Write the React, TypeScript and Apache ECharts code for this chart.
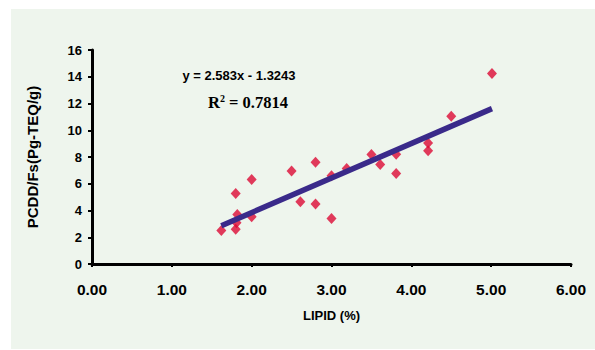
import React, { useEffect, useRef } from "react";
import * as echarts from "echarts";

const lipid = [1.62, 1.8, 1.82, 2.0, 1.81, 1.8, 2.0, 2.5, 2.8, 2.61, 2.8, 3.0, 3.0, 3.19, 3.5, 3.61, 3.81, 3.81, 4.21, 4.21, 4.5, 5.01];
const pcdd = [2.51, 5.28, 3.71, 3.53, 3.08, 2.59, 6.32, 6.96, 7.61, 4.65, 4.48, 3.41, 6.59, 7.14, 8.19, 7.44, 8.21, 6.77, 9.05, 8.46, 11.04, 14.25];
const slope = 2.583;
const intercept = -1.3243;
const xTicks = [0, 1, 2, 3, 4, 5, 6];
const yTicks = [0, 2, 4, 6, 8, 10, 12, 14, 16];

export default function App() {
  const ref = useRef<HTMLDivElement>(null);
  useEffect(() => {
    document.body.style.margin = "0";
    const chart = echarts.init(ref.current!, null, { renderer: "svg" });
    const xMin = Math.min(...lipid);
    const xMax = Math.max(...lipid);
    const font = "Arial, 'Liberation Sans', sans-serif";
    chart.setOption({
      animation: false,
      backgroundColor: "#ffffff",
      graphic: [
        {
          type: "rect",
          shape: { x: 11, y: 9, width: 584, height: 340 },
          style: { fill: "#EEF5ED" },
          z: -10,
          silent: true,
        },
        {
          type: "text",
          x: 239,
          y: 75,
          style: {
            text: "y = 2.583x - 1.3243",
            font: `bold 13px ${font}`,
            fill: "#000",
            align: "center",
            verticalAlign: "middle",
          },
        },
        {
          type: "text",
          x: 248,
          y: 102,
          style: {
            text: "R{sup|2} = 0.7814",
            font: `bold 16.5px 'Liberation Serif', 'Times New Roman', serif`,
            fill: "#000",
            align: "center",
            verticalAlign: "middle",
            rich: {
              sup: {
                font: `bold 10px 'Liberation Serif', serif`,
                verticalAlign: "top",
                padding: [0, 0, 8, 0],
              },
            },
          },
        },
      ],
      grid: { left: 92, right: 24, top: 50, bottom: 86, containLabel: false },
      xAxis: {
        type: "value",
        min: xTicks[0],
        max: xTicks[xTicks.length - 1],
        interval: 1,
        name: "LIPID (%)",
        nameLocation: "middle",
        nameGap: 45,
        nameTextStyle: { fontFamily: font, fontWeight: "bold", fontSize: 13, color: "#000" },
        axisLine: { show: true, onZero: false, lineStyle: { color: "#000", width: 3 } },
        axisTick: { show: true, inside: false, length: 3, lineStyle: { color: "#000", width: 2 } },
        axisLabel: {
          formatter: (v: number) => v.toFixed(2),
          fontFamily: font,
          fontWeight: "bold",
          fontSize: 15.5,
          color: "#000",
          margin: 17,
        },
        splitLine: { show: false },
      },
      yAxis: {
        type: "value",
        min: yTicks[0],
        max: yTicks[yTicks.length - 1],
        interval: 2,
        name: "PCDD/Fs(Pg-TEQ/g)",
        nameLocation: "middle",
        nameGap: 52,
        nameTextStyle: { fontFamily: font, fontWeight: "bold", fontSize: 15, color: "#000" },
        axisLine: { show: true, lineStyle: { color: "#000", width: 3 } },
        axisTick: { show: true, inside: false, length: 4, lineStyle: { color: "#000", width: 2 } },
        axisLabel: { fontFamily: font, fontWeight: "bold", fontSize: 13, color: "#000", margin: 10 },
        splitLine: { show: false },
      },
      series: [
        {
          type: "line",
          data: [
            [xMin, slope * xMin + intercept],
            [xMax, slope * xMax + intercept],
          ],
          showSymbol: false,
          symbol: "none",
          lineStyle: { color: "#3A2A8A", width: 5.5 },
          z: 3,
        },
        {
          type: "scatter",
          data: lipid.map((x, i) => [x, pcdd[i]]),
          symbol: "diamond",
          symbolSize: [10, 11],
          itemStyle: { color: "#DC0A34" },
          z: 2,
        },
      ],
    });
    return () => chart.dispose();
  }, []);
  return <div ref={ref} style={{ width: 595, height: 350 }} />;
}
